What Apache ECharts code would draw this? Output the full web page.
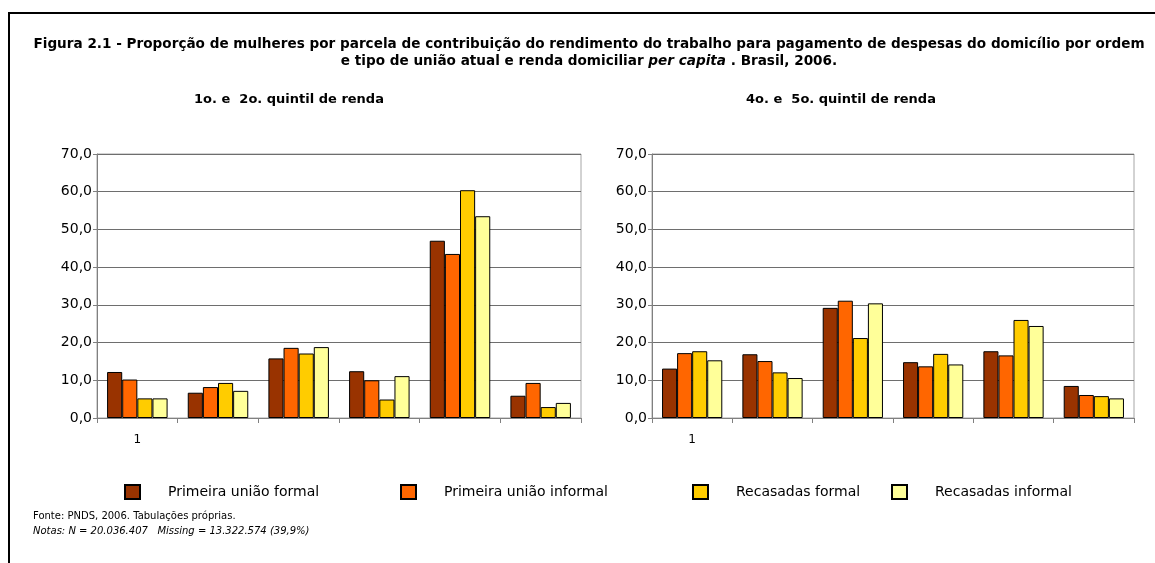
<!DOCTYPE html>
<html>
<head>
<meta charset="utf-8">
<script src="https://cdn.jsdelivr.net/npm/echarts@6/dist/echarts.min.js"></script>
<style>
  html, body { margin: 0; padding: 0; background: #fff; }
  #chart { width: 1155px; height: 563px; }
</style>
</head>
<body>
<div id="chart"></div>
<script>
// categorias (parcelas de contribuicao) - so a primeira tem rotulo
var categorias = ["1", "", "", "", "", ""];
var nomesSeries = ["Primeira união formal", "Primeira união informal", "Recasadas formal", "Recasadas informal"];
var cores = ["#993300", "#FF6600", "#FFCC00", "#FFFF99"];

// 1o. e 2o. quintil de renda
var q12_primFormal   = [12.2, 6.7, 15.8, 12.4, 47.0, 5.9];
var q12_primInformal = [10.2, 8.2, 18.6, 10.0, 43.5, 9.3];
var q12_recFormal    = [5.2, 9.3, 17.1, 4.9, 60.4, 2.9];
var q12_recInformal  = [5.2, 7.2, 18.8, 11.1, 53.5, 4.0];

// 4o. e 5o. quintil de renda
var q45_primFormal   = [13.1, 16.9, 29.2, 14.8, 17.7, 8.5];
var q45_primInformal = [17.2, 15.1, 31.1, 13.7, 16.6, 6.1];
var q45_recFormal    = [17.7, 12.1, 21.2, 17.0, 26.0, 5.8];
var q45_recInformal  = [15.3, 10.6, 30.4, 14.2, 24.4, 5.2];

var yTicks = [0, 10, 20, 30, 40, 50, 60, 70];

var chart = echarts.init(document.getElementById("chart"), null, { renderer: "canvas" });
var fonte = "'DejaVu Sans', Verdana, sans-serif";

function eixoX(idx) {
  return {
    type: "category",
    gridIndex: idx,
    data: categorias,
    axisLine: { lineStyle: { color: "#808080", width: 1 } },
    axisTick: { show: true, interval: 0, length: 5, lineStyle: { color: "#808080" } },
    axisLabel: { interval: 0, margin: 16, color: "#000", fontSize: 12, fontFamily: fonte }
  };
}
function eixoY(idx) {
  return {
    type: "value",
    gridIndex: idx,
    min: yTicks[0],
    max: yTicks[yTicks.length - 1],
    interval: 10,
    axisLine: { show: true, lineStyle: { color: "#808080", width: 1 } },
    axisTick: { show: true, length: 4, lineStyle: { color: "#808080" } },
    axisLabel: {
      margin: 5, color: "#000", fontSize: 14, fontFamily: fonte,
      formatter: function (v) { return v.toFixed(1).replace(".", ","); }
    },
    splitLine: { lineStyle: { color: "#6e6e6e", width: 1 } }
  };
}
function serie(nome, dados, cor, idx) {
  return {
    name: nome,
    type: "bar",
    xAxisIndex: idx,
    yAxisIndex: idx,
    data: dados,
    barGap: "0%",
    barCategoryGap: "25%",
    itemStyle: { color: cor, borderColor: "#000", borderWidth: 1 }
  };
}

var q12 = [q12_primFormal, q12_primInformal, q12_recFormal, q12_recInformal];
var q45 = [q45_primFormal, q45_primInformal, q45_recFormal, q45_recInformal];
var series = [];
nomesSeries.forEach(function (n, i) { series.push(serie(n, q12[i], cores[i], 0)); });
nomesSeries.forEach(function (n, i) { series.push(serie(n, q45[i], cores[i], 1)); });

var posLegenda = [124, 400, 692, 891];
var legendas = nomesSeries.map(function (n, i) {
  return {
    data: [{ name: n, icon: "rect" }],
    left: posLegenda[i],
    top: 484,
    padding: 0,
    orient: "horizontal",
    itemWidth: 15,
    itemHeight: 14,
    selectedMode: false,
    textStyle: { color: "#000", fontSize: 14, fontFamily: fonte, padding: [0, 0, 0, 23] }
  };
});

chart.setOption({
  backgroundColor: "#fff",
  animation: false,
  title: {
    left: 584,
    top: 31,
    textAlign: "center",
    text: "{b|Figura 2.1 - Proporção de mulheres por parcela de contribuição do rendimento do trabalho para pagamento de despesas do domicílio por ordem}\n{b|e tipo de união atual e renda domiciliar }{i|per capita}{b| . Brasil, 2006.}",
    textStyle: {
      rich: {
        b: { fontWeight: "bold", fontSize: 13.6, fontFamily: fonte, color: "#000", lineHeight: 17 },
        i: { fontWeight: "bold", fontStyle: "italic", fontSize: 13.6, fontFamily: fonte, color: "#000", lineHeight: 17 }
      }
    }
  },
  legend: legendas,
  grid: [
    { left: 97, top: 154, width: 484, height: 264, show: true, borderColor: "#a6a6a6", borderWidth: 1 },
    { left: 652, top: 154, width: 482, height: 264, show: true, borderColor: "#a6a6a6", borderWidth: 1 }
  ],
  xAxis: [eixoX(0), eixoX(1)],
  yAxis: [eixoY(0), eixoY(1)],
  series: series,
  graphic: [
    { type: "line", shape: { x1: 9, y1: 13, x2: 1155, y2: 13 }, style: { stroke: "#000", lineWidth: 2 } },
    { type: "line", shape: { x1: 9, y1: 12, x2: 9, y2: 563 }, style: { stroke: "#000", lineWidth: 2 } },
    { type: "text", x: 289, y: 100, style: { text: "1o. e  2o. quintil de renda", font: "bold 13px " + fonte, fill: "#000", textAlign: "center", textVerticalAlign: "middle" } },
    { type: "text", x: 841, y: 100, style: { text: "4o. e  5o. quintil de renda", font: "bold 13px " + fonte, fill: "#000", textAlign: "center", textVerticalAlign: "middle" } },
    { type: "text", x: 33, y: 516, style: { text: "Fonte: PNDS, 2006. Tabulações próprias.", font: "10px " + fonte, fill: "#000", textVerticalAlign: "middle" } },
    { type: "text", x: 33, y: 531, style: { text: "Notas: N = 20.036.407   Missing = 13.322.574 (39,9%)", font: "italic 10px " + fonte, fill: "#000", textVerticalAlign: "middle" } }
  ]
});
</script>
</body>
</html>
